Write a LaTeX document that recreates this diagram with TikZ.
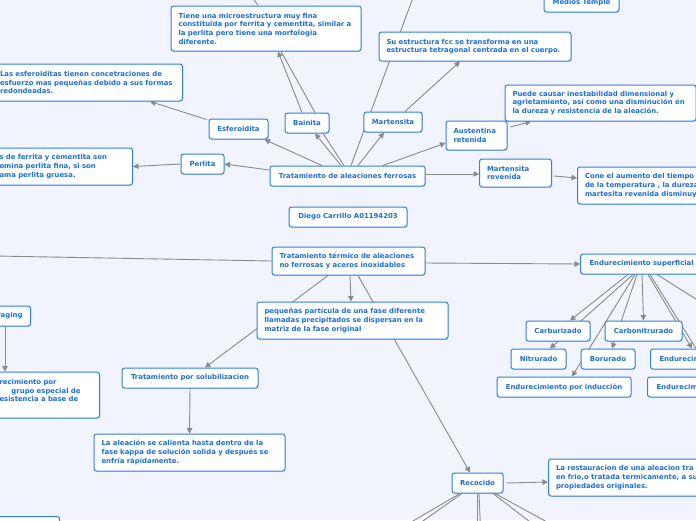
\documentclass[tikz,border=0pt]{standalone}
\usepackage{fontspec}
\setmainfont{DejaVu Sans}
\usetikzlibrary{arrows.meta,shadows}
\definecolor{paper}{HTML}{F1F4FC}
\definecolor{rim}{HTML}{2F80E0}
\definecolor{ink}{HTML}{1C6FD8}
\definecolor{wire}{HTML}{8A8A8A}
\pgfdeclarelayer{sheet}
\pgfdeclarelayer{wires}
\pgfsetlayers{sheet,wires,main}
\tikzset{
  box/.style={draw=rim, fill=white, rounded corners=2.5pt, line width=1pt, text=ink,
    font=\fontsize{6.9}{8.7}\selectfont\bfseries, inner ysep=3pt,
    drop shadow={shadow xshift=.7pt, shadow yshift=-.9pt, opacity=.22}},
  tag/.style={box, inner xsep=8pt, minimum height=20pt},
  note/.style={box, inner xsep=7.5pt, align=left},
  wireline/.style={draw=wire, line width=.9pt},
  link/.style={wireline, -{Triangle[length=5.5pt,width=5.5pt]}}
}

\begin{document}
\begin{tikzpicture}[x=1pt,y=-1pt]
  \useasboundingbox (0,0) rectangle (696,520);
  \begin{pgfonlayer}{sheet}
    \fill[paper] (0,0) rectangle (696,520);
  \end{pgfonlayer}
  \clip (0,0) rectangle (696,520);

  \foreach \nm/\x/\y/\w/\txt in {
      esferoidita/238.5/129/59/Esferoidita,
      bainita/307/123/44/Bainita,
      martensita/393/122/58/Martensita,
      perlita/202.5/164/43/Perlita,
      ferrosas/347.5/176/155/Tratamiento de aleaciones ferrosas,
      diego/348/217/118/Diego Carrillo A01194203,
      carburizado/558/331/64/Carburizado,
      carbonitrurado/643.5/331/77/Carbonitrurado,
      nitrurado/538.5/359/55/Nitrurado,
      borurado/608/359/54/Borurado,
      induccion/564/387/134/Endurecimiento por inducción,
      solubilizacion/190/378/136/Tratamiento por solubilizacion,
      recocido/477.5/483/51/Recocido}
    \node[tag, minimum width=\w pt] (\nm) at (\x,\y) {\txt};

  \node[tag, minimum width=75pt, minimum height=18pt] (temple) at (581.5,3) {Medios Temple};
  \node[tag, anchor=west, inner xsep=9pt] (superficial) at (580,264) {Endurecimiento superficial};
  \node[tag, anchor=west, inner xsep=9pt] (endur2) at (650,359) {Endurecimiento};
  \node[tag, anchor=west, inner xsep=9pt] (endur3) at (647,387) {Endurecimiento};
  \node[tag, anchor=east] (aging) at (31,316) {raging};

  \node[note, text width=175pt, minimum height=45pt] (tiene) at (266,28.5)
    {Tiene una microestructura muy fina\\constituida por ferrita y cementita, similar a\\la perlita pero tiene una morfologia\\diferente.};
  \node[note, anchor=east, text width=175pt, minimum height=37pt] (esferoiditas) at (183,82.5)
    {Las esferoiditas tienen concetraciones de\\esfuerzo mas pequeñas debido a sus formas\\redondeadas.};
  \node[note, text width=177pt, minimum height=29pt] (estructura) at (475,46.5)
    {Su estructura fcc se transforma en una\\estructura tetragonal centrada en el cuerpo.};
  \node[note, text width=176pt, minimum height=36pt] (puede) at (600.5,103)
    {Puede causar inestabilidad dimensional y\\agrietamiento, así como una disminución en\\la dureza y resistencia de la aleación.};
  \node[note, text width=46pt, minimum height=29pt] (austentina) at (476.5,135.5) {Austentina\\retenida};
  \node[note, anchor=east, text width=125.5pt, minimum height=37pt] (perlitas) at (133,166.5)
    {s de ferrita y cementita son\\omina perlita fina, si son\\ama perlita gruesa.};
  \node[note, anchor=west, text width=57pt, minimum height=28pt] (revenida) at (479,173) {Martensita\\revenida};
  \node[note, anchor=west, text width=140pt, minimum height=37pt] (cone) at (577,185.5)
    {Cone el aumento del tiempo\\de la temperatura , la dureza\\martesita revenida disminuy};
  \node[note, text width=138pt, minimum height=28pt] (noferrosas) at (348.5,261)
    {Tratamiento térmico de aleaciones\\no ferrosas y aceros inoxidables};
  \node[note, anchor=east, text width=92.5pt, minimum height=46pt] (precipitacion) at (100,395)
    {recimiento por\\\hspace*{12pt}grupo especial de\\esistencia a base de\\~};
  \node[note, text width=176pt, minimum height=37pt] (pequenas) at (352.5,320.5)
    {pequeñas partícula de una fase diferente\\llamadas precipitados se dispersan en la\\matriz de la fase original};
  \node[note, text width=176pt, minimum height=37pt] (aleacion) at (189.5,452.5)
    {La aleación se calienta hasta dentro de la\\fase kappa de solución solida y después se\\enfría rápidamente.};
  \node[note, anchor=west, text width=160pt, minimum height=37pt] (restauracion) at (548,477.5)
    {La restauracion de una aleacion tra\\en frio,o tratada termicamente, a su\\propiedades originales.};
  \node[note, anchor=north east, minimum width=80pt, minimum height=30pt] (hidden) at (60,516) {};

  \begin{pgfonlayer}{wires}
    \clip (0,0) rectangle (696,520);
    \coordinate (offtop) at (414,-5);
    \coordinate (offtiene) at (251,-5);
    \coordinate (offleft) at (-5,256);
    \coordinate (offright) at (710,308);

    \draw[link] ([yshift=6pt]ferrosas.west) -- (perlita.east);
    \draw[link] (perlita.west) -- (perlitas.east);
    \draw[link] ([xshift=-25.5pt]ferrosas.north) -- ([xshift=-4pt]esferoidita.south east);
    \draw[link] ([xshift=-2pt,yshift=-1pt]esferoidita.north west) -- ([xshift=-33pt]esferoiditas.south east);
    \draw[link] ([xshift=-6.5pt]ferrosas.north) -- ([xshift=8pt]bainita.south);
    \draw[wireline] ([xshift=-3.5pt]ferrosas.north) -- ([xshift=16pt]bainita.south);
    \draw[link] ([xshift=-5pt]bainita.north) -- ([xshift=12pt]tiene.south);
    \draw[wireline] ([xshift=8pt]bainita.north) -- ([xshift=15pt]tiene.south);
    \draw[wireline] ([xshift=-8pt]tiene.north) -- (offtiene);
    \draw[wireline] ([xshift=3.5pt]ferrosas.north) -- (offtop);
    \draw[link] ([xshift=10.5pt]ferrosas.north) -- ([xshift=-9pt]martensita.south);
    \draw[link] ([xshift=12pt]martensita.north) -- ([xshift=-15pt]estructura.south);
    \draw[link] ([xshift=35.5pt]ferrosas.north) -- ([yshift=-7.5pt]austentina.west);
    \draw[link] ([xshift=3pt,yshift=8.5pt]austentina.east) -- ([xshift=-69.5pt]puede.south);
    \draw[link] ([yshift=2pt]ferrosas.east) -- ([yshift=-1pt]revenida.west);
    \draw[link] ([xshift=2pt,yshift=-3pt]revenida.east) -- ([yshift=7.5pt]cone.west);

    \draw[wireline] (noferrosas.west) -- (offleft);
    \draw[link] ([yshift=-2pt]noferrosas.east) -- (superficial.west);
    \draw[link] ([xshift=1.5pt]noferrosas.south) -- ([xshift=-1.5pt]pequenas.north);
    \draw[link] ([xshift=-20.5pt]noferrosas.south) -- ([xshift=15pt]solubilizacion.north);
    \draw[link] ([xshift=9.5pt]noferrosas.south) -- ([xshift=-7.5pt]recocido.north);
    \draw[link] (solubilizacion.south) -- (aleacion.north);
    \draw[link] ([xshift=-26pt]aging.south east) -- ([xshift=-95pt]precipitacion.north east);
    \draw[link] ([xshift=3pt]recocido.east) -- ([yshift=-4.5pt]restauracion.west);
    \foreach \s/\ex [count=\k] in {-17.5/401,-15.5/413,-0.5/477,1.5/480.5,15.5/538,17.5/558} {
      \coordinate (down\k) at (\ex,528);
      \draw[wireline] ([xshift=\s pt]recocido.south) -- (down\k);
    }

    \draw[link] ([xshift=48pt]superficial.south west) -- ([xshift=12pt]carburizado.north);
    \draw[link] ([xshift=53pt]superficial.south west) -- ([xshift=11.5pt]nitrurado.north);
    \draw[link] ([xshift=57pt]superficial.south west) -- ([xshift=4pt]borurado.north);
    \draw[link] ([xshift=55pt]superficial.south west) -- ([xshift=8pt]induccion.north);
    \draw[link] ([xshift=62pt]superficial.south west) -- (carbonitrurado.north);
    \draw[link] ([xshift=68pt]superficial.south west) -- ([xshift=42pt]endur2.north west);
    \draw[wireline] ([xshift=70pt]superficial.south west) -- ([xshift=46pt]endur2.north west);
    \draw[wireline] ([xshift=77pt]superficial.south west) -- (offright);
  \end{pgfonlayer}
\end{tikzpicture}
\end{document}
